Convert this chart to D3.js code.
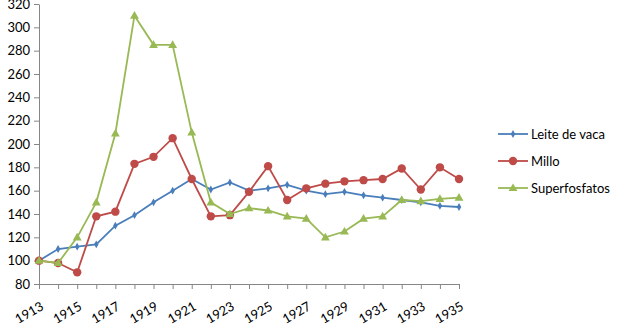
<!DOCTYPE html>
<html><head><meta charset="utf-8">
<script src="https://cdn.jsdelivr.net/npm/d3@7"></script>
<style>body{margin:0;background:#fff;} svg{display:block;}</style>
</head><body>
<svg id="c" width="632" height="335"></svg>
<script>
const years = d3.range(1913, 1936);
const yTicks = [80,100,120,140,160,180,200,220,240,260,280,300,320];
const seriesNames = ["Leite de vaca", "Millo", "Superfosfatos"];
const leite = [100,110,112,114,130,139,150,160,170,161,167,160,162,165,160,157,159,156,154,152,150,147,146];
const millo = [100,98,90,138,142,183,189,205,170,138,139,159,181,152,162,166,168,169,170,179,161,180,170];
const superf = [100,98,120,150,209,310,285,285,210,150,140,145,143,138,136,120,125,136,138,152,151,153,154];
const colors = ["#4a7ebb", "#be4b48", "#98b954"];
const markers = ["diamond", "circle", "triangle"];

const svg = d3.select("#c");
const pLeft = 39, pRight = 459, pTop = 4, pBottom = 284;
const x = d3.scaleLinear().domain([1913, 1935]).range([pLeft, pRight]);
const y = d3.scaleLinear().domain([80, 320]).range([pBottom, pTop]);
const font = "Lato, 'Open Sans', sans-serif";

// axes
const yAxis = svg.append("g").attr("transform", `translate(${pLeft},0)`)
  .call(d3.axisLeft(y).tickValues(yTicks).tickSize(5).tickSizeOuter(0).tickPadding(4));
const xAxis = svg.append("g").attr("transform", `translate(0,${pBottom})`)
  .call(d3.axisBottom(x).tickValues(years).tickSize(5).tickSizeOuter(0)
    .tickFormat(d => (d - 1913) % 2 === 0 ? String(d) : ""));
[yAxis, xAxis].forEach(g => {
  g.select(".domain").attr("stroke", "#868686");
  g.selectAll(".tick line").attr("stroke", "#868686");
  g.selectAll("text").attr("fill", "#000").style("font-family", font).style("font-size", "13px");
});
xAxis.selectAll("text")
  .attr("text-anchor", "end")
  .attr("dy", "0")
  .attr("transform", "translate(1,18) rotate(-30)");

const data = [leite, millo, superf];
const line = d3.line().x((d, i) => x(years[i])).y(d => y(d));
function marker(g, type, color, cx, cy) {
  if (type === "diamond") {
    g.append("path").attr("d", d3.symbol(d3.symbolDiamond, 18)()).attr("transform", `translate(${cx},${cy})`).attr("fill", color);
  } else if (type === "circle") {
    g.append("circle").attr("cx", cx).attr("cy", cy).attr("r", 4.2).attr("fill", color);
  } else {
    g.append("path").attr("d", d3.symbol(d3.symbolTriangle, 34)()).attr("transform", `translate(${cx},${cy+0.5})`).attr("fill", color);
  }
}
data.forEach((vals, s) => {
  const g = svg.append("g");
  g.append("path").attr("d", line(vals)).attr("fill", "none").attr("stroke", colors[s]).attr("stroke-width", 1.8);
  vals.forEach((v, i) => marker(g, markers[s], colors[s], x(years[i]), y(v)));
});

// legend
const legY = [134, 161, 188];
seriesNames.forEach((n, s) => {
  const g = svg.append("g");
  g.append("line").attr("x1", 498).attr("x2", 528).attr("y1", legY[s]).attr("y2", legY[s])
    .attr("stroke", colors[s]).attr("stroke-width", 1.8);
  marker(g, markers[s], colors[s], 513, legY[s]);
  g.append("text").attr("x", 531).attr("y", legY[s]).attr("dy", "0.35em")
    .style("font-family", font).style("font-size", "13px").text(n);
});
</script>
</body></html>
